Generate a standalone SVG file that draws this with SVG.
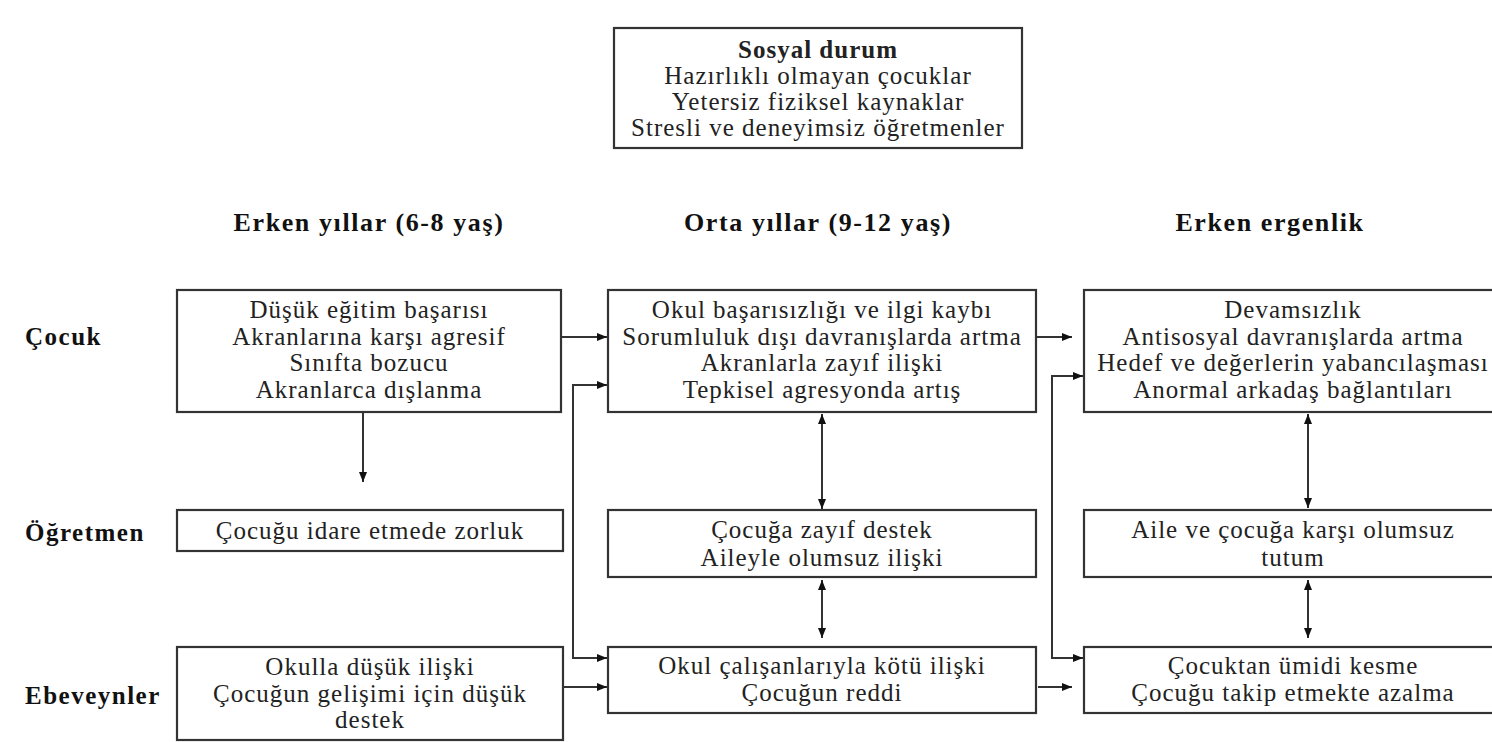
<svg xmlns="http://www.w3.org/2000/svg" width="1492" height="742" viewBox="0 0 1492 742">
<style>
.box{fill:#fff;stroke:#333;stroke-width:2.2}
.t{font-family:"Liberation Serif","Times New Roman",serif;font-size:25px;letter-spacing:1px;fill:#222;text-anchor:middle}
.h{font-family:"Liberation Serif","Times New Roman",serif;font-size:26px;letter-spacing:1.6px;font-weight:bold;fill:#111;text-anchor:middle}
.b{font-weight:bold}
.lab{font-family:"Liberation Serif","Times New Roman",serif;font-size:25px;letter-spacing:1.5px;font-weight:bold;fill:#111}
.c{fill:none;stroke:#333;stroke-width:2}
</style>
<defs>
<marker id="ah" viewBox="0 0 10 8" refX="10" refY="4" markerWidth="10" markerHeight="8" markerUnits="userSpaceOnUse" orient="auto-start-reverse">
<path d="M0,0 L10,4 L0,8 Z" fill="#111"/>
</marker>
</defs>
<rect width="1492" height="742" fill="#fff"/>

<g id="social">
<rect class="box" x="614" y="28" width="408" height="120"/>
<text class="t b" x="818" y="58">Sosyal durum</text>
<text class="t" x="818" y="84">Hazırlıklı olmayan çocuklar</text>
<text class="t" x="818" y="110">Yetersiz fiziksel kaynaklar</text>
<text class="t" x="818" y="136">Stresli ve deneyimsiz öğretmenler</text>
</g>

<g id="headers">
<text class="h" x="369" y="231">Erken yıllar (6-8 yaş)</text>
<text class="h" x="818" y="231">Orta yıllar (9-12 yaş)</text>
<text class="h" x="1270" y="231">Erken ergenlik</text>
</g>

<g id="rowlabels">
<text class="lab" x="25" y="345">Çocuk</text>
<text class="lab" x="25" y="541">Öğretmen</text>
<text class="lab" x="25" y="704">Ebeveynler</text>
</g>

<g id="connectors">
<path class="c" d="M561,337 H607" marker-end="url(#ah)"/>
<path class="c" d="M607,385 H573 V658 H607" marker-start="url(#ah)" marker-end="url(#ah)"/>
<path class="c" d="M563,687 H607" marker-end="url(#ah)"/>
<path class="c" d="M363,412 V482" marker-end="url(#ah)"/>
<path class="c" d="M822,414 V509" marker-start="url(#ah)" marker-end="url(#ah)"/>
<path class="c" d="M822,580 V638" marker-start="url(#ah)" marker-end="url(#ah)"/>
<path class="c" d="M1036,337 H1072" marker-end="url(#ah)"/>
<path class="c" d="M1083,376 H1052 V658 H1083" marker-start="url(#ah)" marker-end="url(#ah)"/>
<path class="c" d="M1038,687 H1072" marker-end="url(#ah)"/>
<path class="c" d="M1308,414 V508" marker-start="url(#ah)" marker-end="url(#ah)"/>
<path class="c" d="M1308,580 V638" marker-start="url(#ah)" marker-end="url(#ah)"/>
</g>

<g id="A">
<rect class="box" x="177" y="290" width="384" height="122"/>
<text class="t" x="369" y="318">Düşük eğitim başarısı</text>
<text class="t" x="369" y="345">Akranlarına karşı agresif</text>
<text class="t" x="369" y="371">Sınıfta bozucu</text>
<text class="t" x="369" y="398">Akranlarca dışlanma</text>
</g>
<g id="B">
<rect class="box" x="177" y="510" width="386" height="41"/>
<text class="t" x="370" y="539">Çocuğu idare etmede zorluk</text>
</g>
<g id="C">
<rect class="box" x="177" y="647" width="386" height="93"/>
<text class="t" x="370" y="675">Okulla düşük ilişki</text>
<text class="t" x="370" y="702">Çocuğun gelişimi için düşük</text>
<text class="t" x="370" y="728">destek</text>
</g>

<g id="D">
<rect class="box" x="608" y="290" width="428" height="122"/>
<text class="t" x="822" y="318">Okul başarısızlığı ve ilgi kaybı</text>
<text class="t" x="822" y="345">Sorumluluk dışı davranışlarda artma</text>
<text class="t" x="822" y="371">Akranlarla zayıf ilişki</text>
<text class="t" x="822" y="398">Tepkisel agresyonda artış</text>
</g>
<g id="E">
<rect class="box" x="608" y="510" width="428" height="67"/>
<text class="t" x="822" y="538">Çocuğa zayıf destek</text>
<text class="t" x="822" y="566">Aileyle olumsuz ilişki</text>
</g>
<g id="F">
<rect class="box" x="608" y="647" width="428" height="66"/>
<text class="t" x="822" y="674">Okul çalışanlarıyla kötü ilişki</text>
<text class="t" x="822" y="701">Çocuğun reddi</text>
</g>

<g id="G">
<rect class="box" x="1084" y="290" width="420" height="122"/>
<text class="t" x="1293" y="318">Devamsızlık</text>
<text class="t" x="1293" y="345">Antisosyal davranışlarda artma</text>
<text class="t" x="1293" y="371">Hedef ve değerlerin yabancılaşması</text>
<text class="t" x="1293" y="398">Anormal arkadaş bağlantıları</text>
</g>
<g id="H">
<rect class="box" x="1084" y="510" width="420" height="67"/>
<text class="t" x="1293" y="538">Aile ve çocuğa karşı olumsuz</text>
<text class="t" x="1293" y="566">tutum</text>
</g>
<g id="I">
<rect class="box" x="1084" y="647" width="420" height="66"/>
<text class="t" x="1293" y="674">Çocuktan ümidi kesme</text>
<text class="t" x="1293" y="701">Çocuğu takip etmekte azalma</text>
</g>
</svg>
